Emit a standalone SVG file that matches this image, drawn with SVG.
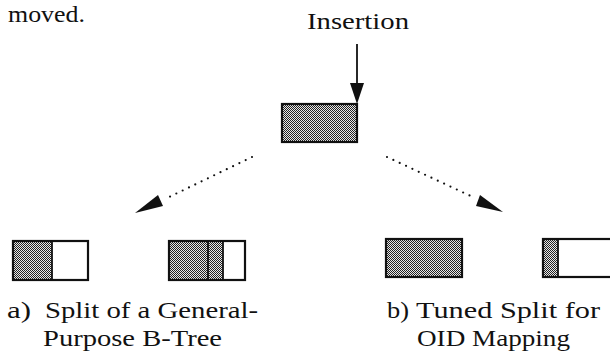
<svg xmlns="http://www.w3.org/2000/svg" width="610" height="358" viewBox="0 0 610 358">
<style>
.t{font-size:24px;fill:#111}
.box{stroke:#111;stroke-width:2.2;fill:none}
.sh{fill:url(#chk)}
.dot{stroke:#111;stroke-width:2.2;stroke-linecap:round;stroke-dasharray:0 7;fill:none}
.line{stroke:#111;stroke-width:1.8;fill:none}
</style>
<defs>
<pattern id="chk" width="2" height="2" patternUnits="userSpaceOnUse">
<rect width="2" height="2" fill="#e8e8e8"/>
<rect width="1" height="1" fill="#222"/>
<rect x="1" y="1" width="1" height="1" fill="#222"/>
</pattern>
</defs>
<rect width="610" height="358" fill="#fff"/>
<g font-family="'Liberation Serif', 'Times New Roman', Tinos, 'Noto Serif', 'DejaVu Serif', serif">
<text class="t" x="8" y="22" textLength="77" lengthAdjust="spacingAndGlyphs">moved.</text>
<text id="lbl-insertion" class="t" x="307" y="29" textLength="102" lengthAdjust="spacingAndGlyphs">Insertion</text>
</g>

<g id="node-center">
<rect class="sh" x="282" y="104" width="75" height="38"/>
<rect class="box" x="282" y="104" width="75" height="38"/>
</g>
<g id="node-a1">
<rect class="sh" x="13" y="241" width="39" height="39"/>
<rect class="box" x="13" y="241" width="75" height="39"/>
<line class="line" x1="52" y1="241" x2="52" y2="280"/>
</g>
<g id="node-a2">
<rect class="sh" x="169" y="241" width="54" height="39"/>
<rect class="box" x="169" y="241" width="76" height="39"/>
<line class="line" x1="208" y1="241" x2="208" y2="280"/>
<line class="line" x1="223" y1="241" x2="223" y2="280"/>
</g>
<g id="node-b1">
<rect class="sh" x="386" y="239" width="76" height="38"/>
<rect class="box" x="386" y="239" width="76" height="38"/>
</g>
<g id="node-b2">
<rect class="sh" x="543" y="239" width="15" height="38"/>
<rect class="box" x="543" y="239" width="76" height="38"/>
<line class="line" x1="558" y1="239" x2="558" y2="277"/>
</g>

<g id="connectors">
<line class="line" x1="357" y1="44" x2="357" y2="84"/>
<polygon points="350,83 364,83 357,104" fill="#111"/>
<line class="dot" x1="252" y1="157" x2="165" y2="199"/>
<polygon points="135,213 158,195 163,206" fill="#111"/>
<line class="dot" x1="387" y1="157" x2="475" y2="198"/>
<polygon points="503,212 480,195 476,206" fill="#111"/>
</g>

<g id="captions" font-family="'Liberation Serif', 'Times New Roman', Tinos, 'Noto Serif', 'DejaVu Serif', serif">
<text class="t" x="7" y="318" textLength="24" lengthAdjust="spacingAndGlyphs">a)</text>
<text class="t" x="45" y="318" textLength="213" lengthAdjust="spacingAndGlyphs">Split of a General-</text>
<text class="t" x="43" y="346" textLength="179" lengthAdjust="spacingAndGlyphs">Purpose B-Tree</text>
<text class="t" x="387" y="318" textLength="22" lengthAdjust="spacingAndGlyphs">b)</text>
<text class="t" x="416" y="318" textLength="184" lengthAdjust="spacingAndGlyphs">Tuned Split for</text>
<text class="t" x="417" y="346" textLength="153" lengthAdjust="spacingAndGlyphs">OID Mapping</text>
</g>
</svg>
